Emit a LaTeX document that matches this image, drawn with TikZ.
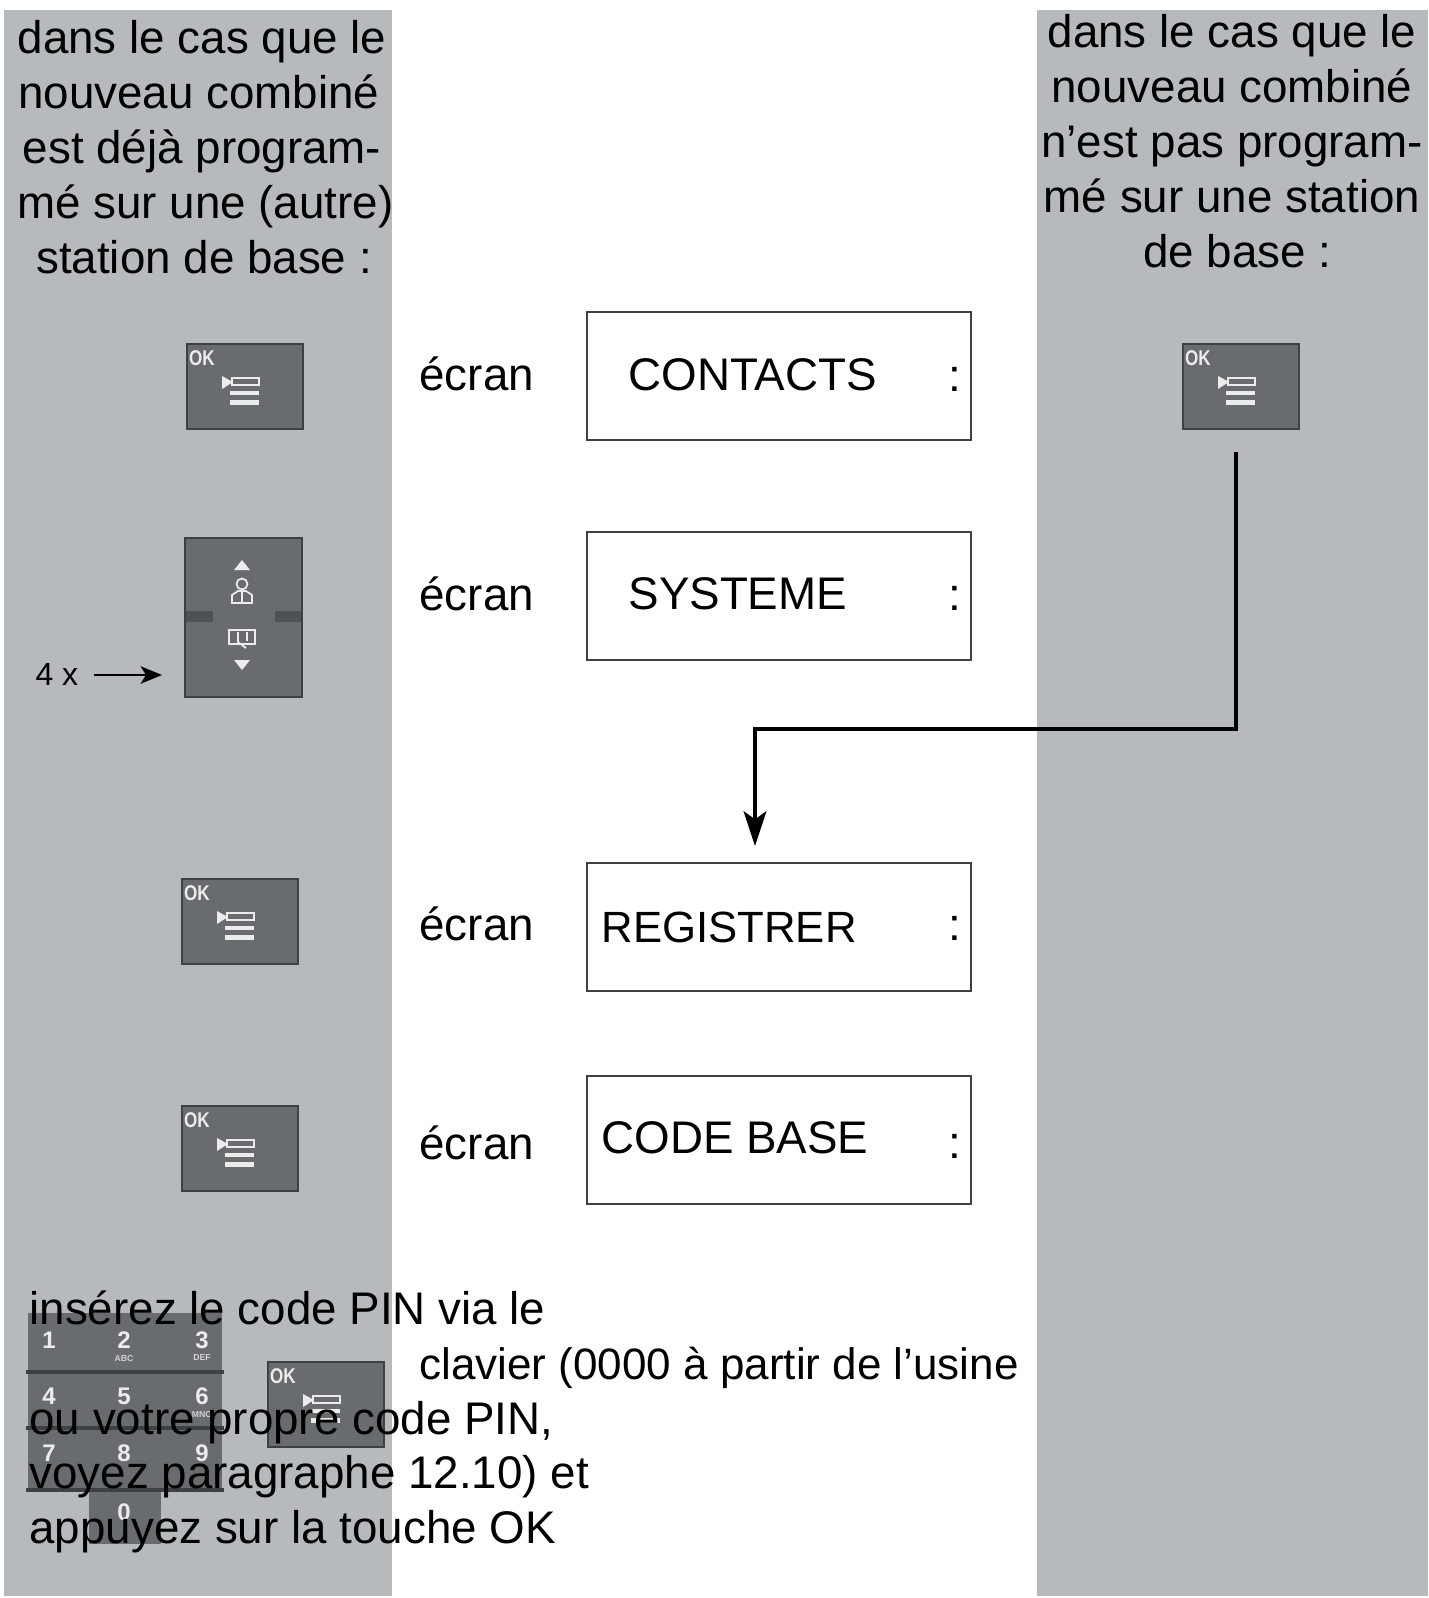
\documentclass[tikz,border=0pt]{standalone}
\usepackage{fontspec}
\setmainfont{Liberation Sans}
\usetikzlibrary{arrows.meta}
\definecolor{bandgrey}{RGB}{183,186,188}
\definecolor{keygrey}{RGB}{104,108,110}
\definecolor{keyedge}{RGB}{62,65,67}
\definecolor{glyphgrey}{RGB}{235,236,236}

\tikzset{every picture/.style={line width=0.75pt}}
\tikzset{
  band/.style={fill=bandgrey,draw=none},
  screen/.style={draw=black!75,line width=1.5pt,fill=white,minimum width=288pt,minimum height=96pt,inner sep=0pt},
  big/.style={font=\fontsize{34.3}{41.2}\selectfont,inner sep=0pt,text=black},
  flow/.style={line width=3pt,-{Stealth[length=26pt,width=17pt,inset=6pt]}},
  keybody/.style={fill=keygrey,draw=keyedge,line width=2pt},
  digit/.style={font=\bfseries\fontsize{18}{18}\selectfont,text=glyphgrey,inner sep=0pt},
  sublabel/.style={font=\bfseries\fontsize{6.5}{7}\selectfont,text=glyphgrey!80!keygrey,inner sep=0pt},
  okkey/.pic={
    \begin{scope}[yscale=-1]
    \path[keybody] (1,1) rectangle (117,86);
    \node[font=\bfseries\fontsize{16}{16}\selectfont,text=glyphgrey,inner sep=0pt] at (16,15) {\scalebox{0.8}[1]{OK}};
    \fill[glyphgrey] (36,33) -- (47,39) -- (36,46) -- cycle;
    \draw[glyphgrey,line width=1.2pt] (46,35) rectangle (73,42);
    \fill[glyphgrey] (44,48) rectangle (73,52);
    \fill[glyphgrey] (44,57) rectangle (73,62);
    \end{scope}
  }
}

\begin{document}
\begin{tikzpicture}[x=0.75pt,y=0.75pt,yscale=-1,xscale=1]
\useasboundingbox (0,0) rectangle (1428,1598);

%Shape: Side bands
\path[band] (4,10) rectangle (392,1596);
\path[band] (1037,10) rectangle (1428,1596);

%Shape: Keypad
\path[fill=keygrey] (28,1313) rectangle (222,1490);
\path[fill=keygrey] (89,1490) rectangle (161,1544);
\foreach \rowy in {1372,1428,1490}
  \draw[keyedge,line width=3pt] (26,\rowy) -- (224,\rowy);
\foreach \keyx/\keyy/\keyd in {49/1340/1,124/1340/2,202/1340/3,49/1396/4,124/1396/5,202/1396/6,49/1453/7,124/1453/8,202/1453/9,124/1512/0}
  \node[digit] (digit\keyd) at (\keyx,\keyy) {\keyd};
\foreach \keyx/\keyy/\keyt in {124/1358/ABC,202/1358/DEF,202/1414/MNO}
  \node[sublabel] (sub\keyt) at (\keyx,\keyy) {\keyt};

%Shape: OK keys
\pic (okone) at (186,343) {okkey};
\pic (okthree) at (181,878) {okkey};
\pic (okfour) at (181,1105) {okkey};
\pic (okpin) at (267,1361) {okkey};
\pic (okright) at (1182,343) {okkey};

%Shape: Arrow keys
\path[keybody] (185,538) rectangle (302,697);
\fill[keyedge!60!keygrey] (186,611) rectangle (213,622);
\fill[keyedge!60!keygrey] (275,611) rectangle (301,622);
\fill[glyphgrey] (242,560) -- (250,570) -- (234,570) -- cycle;
\fill[glyphgrey] (242,670) -- (250,660) -- (234,660) -- cycle;
\draw[glyphgrey,line width=1.3pt] (242,584) circle (5.5);
\draw[glyphgrey,line width=1.3pt] (232,603) -- (232,595) -- (238,591) -- (246,591) -- (252,595) -- (252,603) -- cycle;
\draw[glyphgrey,line width=1.3pt] (242,591) -- (242,603);
\draw[glyphgrey,line width=1.3pt] (229,630) rectangle (255,644);
\draw[glyphgrey,line width=1.3pt] (238,632) -- (238,642) -- (246,648);
\draw[glyphgrey,line width=1.3pt] (247,632) -- (247,641);

%Shape: Screens
\node[screen] (contacts) at (779,376) {};
\node[screen] (systeme) at (779,595.5) {};
\node[screen] (registrer) at (779,927) {};
\node[screen] (codebase) at (779,1140) {};

%Straight Lines
\coordinate (tapstart) at (1236,452);
\coordinate (tapend) at (755,846);
\draw[flow] (tapstart) -- (tapstart |- 0,729) -- (tapend |- 0,729) -- (tapend);
\coordinate (fourstart) at (94,675);
\coordinate (fourend) at (162,675);
\draw[line width=2pt,-{Stealth[length=16pt,width=13pt,inset=4pt]}] (fourstart) -- (fourend);

% Text Node
\node[big,align=center,anchor=north] (headleft) at (202,20) {dans le cas que le\\\hspace*{-5pt}nouveau combiné\\est déjà program-\\\hspace*{5pt}mé sur une (autre)\\\hspace*{3pt}station de base :};
% Text Node
\node[big,align=center,anchor=north] (headright) at (1232,14) {dans le cas que le\\nouveau combiné\\n’est pas program-\\mé sur une station\\\hspace*{8pt}de base :};
% Text Node
\node[font=\fontsize{24}{28}\selectfont,inner sep=0pt,anchor=west] (fourx) at (35,674) {4 x};
% Text Node
\node[big,anchor=west] (ecranone) at (419,374) {écran};
\node[big,anchor=west] (ecrantwo) at (419,594) {écran};
\node[big,anchor=west] (ecranthree) at (419,924) {écran};
\node[big,anchor=west] (ecranfour) at (419,1143) {écran};
% Text Node
\node[big,anchor=west] (labone) at (628,375) {CONTACTS};
\node[big,anchor=west] (labtwo) at (628,594) {SYSTEME};
\node[big,anchor=west,font=\fontsize{32.8}{41.2}\selectfont] (labthree) at (601,927) {REGISTRER};
\node[big,anchor=west] (labfour) at (601,1138) {CODE BASE};
% Text Node
\node[big] (colonone) at (955,379) {:};
\node[big] (colontwo) at (955,598) {:};
\node[big] (colonthree) at (955,928) {:};
\node[big] (colonfour) at (955,1146) {:};
% Text Node
\node[big,align=left,anchor=north west] (pintext) at (29,1290) {insérez le code PIN via le\\\hspace*{292.5pt}{\fontsize{33}{41.2}\selectfont clavier (0000 à partir de l’usine}\\ou votre propre code PIN,\\voyez paragraphe 12.10) et\\appuyez sur la touche OK};

\end{tikzpicture}
\end{document}
